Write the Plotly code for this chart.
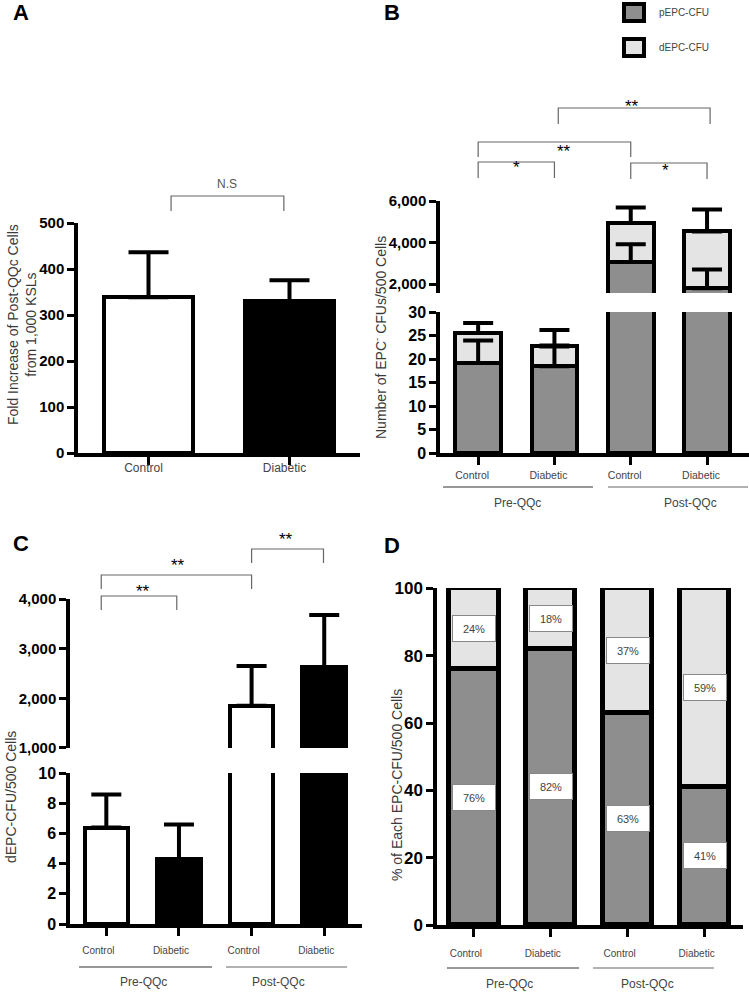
import plotly.graph_objects as go

W, H = 749, 992

# ---------------- data ----------------
a_cats = ["Control", "Diabetic"]
a_vals = [339, 330]
a_errs = [98, 46]

cats4 = ["Control", "Diabetic", "Control", "Diabetic"]
stages = ["Pre-QQc", "Post-QQc"]

b_pepc = [19.2, 18.5, 3070, 1800]
b_depc = [6.4, 4.2, 1880, 2740]
b_pepc_err = [4.8, 4.4, 850, 900]
b_total_err = [2.1, 3.5, 750, 1060]

c_vals = [6.4, 4.3, 1850, 2630]
c_errs = [2.2, 2.3, 800, 1050]

d_pepc = [76, 82, 63, 41]
d_depc = [24, 18, 37, 59]

series_names = ["pEPC-CFU", "dEPC-CFU"]

# ---------------- style ----------------
PGREY = "#8e8e8e"
LGREY = "#e4e4e4"
SANS = "Liberation Sans, Arial, sans-serif"
TXT = "#3a3a3a"


def px(x):
    return x / W


def py(y):
    return 1 - y / H


def yax(top, bottom, rng, anchor, dtick, fmt=None, size=15):
    return dict(domain=[py(bottom), py(top)], range=rng, anchor=anchor,
                showline=True, linewidth=3.5, linecolor="black",
                ticks="outside", ticklen=7, tickwidth=3, tickcolor="black",
                dtick=dtick, tick0=0, showgrid=False, zeroline=False,
                tickformat=fmt, automargin=False,
                tickfont=dict(family=SANS, size=size, color="black", weight="bold"))


def xax(left, right, rng, anchor, labels, standoff=0, shift=0, size=12):
    return dict(domain=[px(left), px(right)], range=rng, anchor=anchor,
                showline=True, linewidth=3.5, linecolor="black",
                ticks="outside", ticklen=8, tickwidth=3, tickcolor="black",
                tickvals=list(range(len(labels))), ticktext=labels,
                tickfont=dict(family=SANS, size=size, color="#444"),
                ticklabelstandoff=standoff, ticklabelshift=shift, automargin=False,
                showgrid=False, zeroline=False)


def hidden_x(left, right, rng, anchor):
    return dict(domain=[px(left), px(right)], range=rng, anchor=anchor, visible=False,
                automargin=False)


fig = go.Figure()


def err_trace(xs, ys, errs, xa, ya, width):
    fig.add_trace(go.Scatter(
        x=xs, y=ys, mode="markers", marker=dict(size=1, color="rgba(0,0,0,0)"),
        error_y=dict(type="data", array=errs, arrayminus=[0] * len(errs), symmetric=False,
                     color="black", thickness=4, width=width),
        xaxis=xa, yaxis=ya, hoverinfo="skip"))


# ---------------- Panel A ----------------
xa_pos = list(range(len(a_cats)))
fig.add_trace(go.Bar(x=xa_pos, y=a_vals, width=0.63,
                     marker=dict(color=["white", "black"], line=dict(color="black", width=4)),
                     xaxis="x", yaxis="y"))
err_trace(xa_pos, a_vals, a_errs, "x", "y", 20)

# ---------------- Panel B ----------------
x4 = list(range(len(cats4)))
b_total = [p + d for p, d in zip(b_pepc, b_depc)]
for xa, ya in [("x2", "y2"), ("x3", "y3")]:
    fig.add_trace(go.Bar(x=x4, y=b_pepc, width=0.6, name=series_names[0],
                         marker=dict(color=PGREY, line=dict(color="black", width=4.5)),
                         xaxis=xa, yaxis=ya))
    fig.add_trace(go.Bar(x=x4, y=b_depc, width=0.6, name=series_names[1],
                         marker=dict(color=LGREY, line=dict(color="black", width=4.5)),
                         xaxis=xa, yaxis=ya))
    err_trace(x4, b_pepc, b_pepc_err, xa, ya, 15)
    err_trace(x4, b_total, b_total_err, xa, ya, 15)

# ---------------- Panel C ----------------
c_colors = ["white", "black", "white", "black"]
for xa, ya in [("x4", "y4"), ("x5", "y5")]:
    fig.add_trace(go.Bar(x=x4, y=c_vals, width=0.6,
                         marker=dict(color=c_colors, line=dict(color="black", width=4.5)),
                         xaxis=xa, yaxis=ya))
    err_trace(x4, c_vals, c_errs, xa, ya, 15)

# ---------------- Panel D ----------------
fig.add_trace(go.Bar(x=x4, y=d_pepc, width=0.64, name=series_names[0],
                     marker=dict(color=PGREY, line=dict(color="black", width=5)),
                     xaxis="x6", yaxis="y6"))
fig.add_trace(go.Bar(x=x4, y=d_depc, width=0.64, name=series_names[1],
                     marker=dict(color=LGREY, line=dict(color="black", width=5)),
                     xaxis="x6", yaxis="y6"))

annotations = []
shapes = []

for i, (p, d) in enumerate(zip(d_pepc, d_depc)):
    for val, mid in [(d, p + d / 2), (p, p / 2)]:
        annotations.append(dict(x=i, y=mid, xref="x6", yref="y6", text=f"{val}%",
                                showarrow=False, bgcolor="white", bordercolor="#888",
                                borderwidth=1, borderpad=2, width=38, height=21,
                                font=dict(family=SANS, size=11, color="#444")))

# ---------------- layout axes ----------------
fig.update_layout(
    template="none",
    width=W, height=H, margin=dict(l=0, r=0, t=0, b=0, pad=0, autoexpand=False),
    paper_bgcolor="white", plot_bgcolor="rgba(0,0,0,0)", showlegend=False,
    barmode="stack", bargap=0,
    xaxis=xax(78, 360, [-0.5, 1.5], "y", a_cats, standoff=-7, shift=-5, size=12),
    yaxis=yax(223, 453, [0, 500.5], "x", 100, size=15),
    xaxis2=xax(440, 749, [-0.5, 3.55], "y2", cats4, standoff=2, shift=-6, size=10.5),
    yaxis2=yax(312, 453, [0, 30.05], "x2", 5, size=16),
    xaxis3=hidden_x(440, 749, [-0.5, 3.55], "y3"),
    yaxis3=yax(201, 293, [1570, 6010], "x3", 2000, fmt=",", size=15),
    xaxis4=xax(70, 362, [-0.5, 3.52], "y4", cats4, standoff=6, shift=-8, size=10),
    yaxis4=yax(773, 924, [0, 10.02], "x4", 2, size=16),
    xaxis5=hidden_x(70, 362, [-0.5, 3.52], "y5"),
    yaxis5=yax(599, 748, [998, 4002], "x5", 1000, fmt=",", size=15),
    xaxis6=xax(437, 743, [-0.48, 3.5], "y6", cats4, standoff=8, shift=-8, size=10),
    yaxis6=yax(588, 925, [0, 100.1], "x6", 20, size=17),
)


# ---------------- text annotations ----------------
def note(x, y, text, size=14, color=TXT, angle=0, bold=False, xanchor="center"):
    annotations.append(dict(x=px(x), y=py(y), xref="paper", yref="paper", text=text,
                            showarrow=False, textangle=angle, xanchor=xanchor, yanchor="middle",
                            font=dict(family=SANS, size=size, color=color,
                                      weight="bold" if bold else "normal")))


note(21, 13, "A", 22, "black", bold=True)
note(392, 13, "B", 22, "black", bold=True)
note(21, 543, "C", 22, "black", bold=True)
note(392, 545, "D", 22, "black", bold=True)

note(22, 325, "Fold Increase of Post-QQc Cells<br>from 1,000 KSLs", 14, angle=-90)
note(380, 338, "Number of EPC<sup>-</sup> CFUs/500 Cells", 14, angle=-90)
note(11, 797, "dEPC-CFU/500 Cells", 14, angle=-90)
note(397, 785, "% of Each EPC-CFU/500 Cells", 14, angle=-90)

# group labels and lines
for (pre_l, pre_r, post_l, post_r, ly, pre_x, post_x, ty) in [
        (443, 593, 608, 748, 487, 517, 690, 503),
        (79, 212, 226, 347, 967, 143, 278, 982),
        (447, 579, 593, 714, 968, 510, 647, 984)]:
    shapes.append(dict(type="line", xref="paper", yref="paper", x0=px(pre_l), x1=px(pre_r),
                       y0=py(ly), y1=py(ly), line=dict(color="#333", width=1)))
    shapes.append(dict(type="line", xref="paper", yref="paper", x0=px(post_l), x1=px(post_r),
                       y0=py(ly), y1=py(ly), line=dict(color="#999", width=1.5)))
    note(pre_x, ty, stages[0], 12, "#444")
    note(post_x, ty, stages[1], 12, "#444")


# significance brackets
def bracket(xref, i, j, ytop, ybot, label, ty, tx=None, color="#666", size=17):
    shapes.append(dict(type="path", xref=xref, yref="paper",
                       path=f"M {i},{py(ybot)} L {i},{py(ytop)} L {j},{py(ytop)} L {j},{py(ybot)}",
                       line=dict(color=color, width=1.2)))
    annotations.append(dict(x=(i + j) / 2 if tx is None else tx, y=py(ty), xref=xref, yref="paper",
                            text=label, showarrow=False,
                            font=dict(family=SANS, size=size,
                                      color="black" if "*" in label else "#555")))


bracket("x", 0.16, 0.96, 196, 211, "N.S", 175, size=12)
bracket("x2", 0, 1, 162, 178, "*", 156)
bracket("x2", 0, 2, 142, 157, "**", 140, tx=1.13)
bracket("x2", 2, 3, 163, 179, "*", 159, tx=2.45)
bracket("x2", 1.05, 3.04, 108, 124, "**", 95, tx=2.02)
bracket("x4", -0.07, 0.97, 596, 610, "**", 591, tx=0.5)
bracket("x4", -0.07, 2.0, 575, 589, "**", 565, tx=0.99)
bracket("x4", 2.0, 2.99, 549, 563, "**", 539, tx=2.48)

# legend (panel B)
for k, (fill, top) in enumerate([(PGREY, 4), (LGREY, 39)]):
    shapes.append(dict(type="rect", xref="paper", yref="paper", x0=px(624), x1=px(644),
                       y0=py(top + 17), y1=py(top), fillcolor=fill, line=dict(color="black", width=4)))
    note(657, top + 9, series_names[k], 10, "#444", xanchor="left")

fig.update_layout(annotations=annotations, shapes=shapes)
fig.write_html(
    "out.html",
    config={"displayModeBar": False},
    post_script="document.body.style.margin='0';document.body.style.overflow='hidden';",
)
